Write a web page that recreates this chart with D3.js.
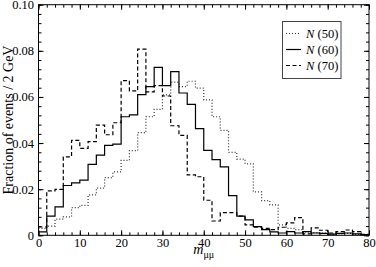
<!DOCTYPE html>
<html>
<head>
<meta charset="utf-8">
<script src="https://cdn.jsdelivr.net/npm/d3@7"></script>
<style>
  body { margin: 0; background: #fff; }
  svg { display: block; }
  svg text { font-family: "Liberation Serif", "Times New Roman", Times, Tinos, serif; fill: #000; }
  .hist { fill: none; stroke-width: 1.2; }
  .axis line { stroke: #000; }
  .legend-box { fill: #fff; stroke: #444; stroke-width: 1; }
</style>
</head>
<body>
<svg width="376" height="267" font-family="Liberation Serif, Times New Roman, serif"></svg>
<script>
// bins of 2 GeV, 0..80
const binStarts = d3.range(0, 80, 2);

const n50 = [0.003, 0.004, 0.007, 0.008, 0.012, 0.013, 0.0175, 0.0205, 0.025, 0.0275,
             0.0325, 0.0367, 0.0445, 0.0514, 0.0546, 0.0609, 0.0664, 0.0645, 0.0668, 0.0638,
             0.0587, 0.0514, 0.0455, 0.036, 0.033, 0.031, 0.0188, 0.015, 0.0132, 0.0045,
             0.003, 0.0025, 0.0015, 0.0012, 0.001, 0.0005, 0.0006, 0.0008, 0.0004, 0.0003];

const n60 = [0.0015, 0.0083, 0.0123, 0.0216, 0.0227, 0.0239, 0.0308, 0.0348, 0.039, 0.0395,
             0.0514, 0.0522, 0.061, 0.0645, 0.0728, 0.0649, 0.071, 0.0617, 0.0568, 0.0463,
             0.0368, 0.0328, 0.0297, 0.0172, 0.0083, 0.0067, 0.0038, 0.0025, 0.0015, 0.001,
             0.0016, 0.001, 0.0016, 0.001, 0.0008, 0.0005, 0.0008, 0.001, 0.0006, 0.0003];

const n70 = [0.0036, 0.0193, 0.0199, 0.034, 0.0412, 0.0377, 0.0406, 0.0478, 0.0436, 0.0488,
             0.0671, 0.0626, 0.0807, 0.0622, 0.0649, 0.0604, 0.0475, 0.0433, 0.0262, 0.0254,
             0.0152, 0.0062, 0.0098, 0.0098, 0.0083, 0.0045, 0.0035, 0.003, 0.0025, 0.0035,
             0.0054, 0.0077, 0.0006, 0.0032, 0.0022, 0.001, 0.0016, 0.0023, 0.0016, 0.0004];

const seriesNames = ["50", "60", "70"];
const xTicks = [0, 10, 20, 30, 40, 50, 60, 70, 80];
const yTicks = [0, 0.02, 0.04, 0.06, 0.08, 0.10];

const series = [
    { name: seriesNames[0], values: n50, dash: "1,2", color: "#333" },
    { name: seriesNames[1], values: n60, dash: null, color: "#000" },
    { name: seriesNames[2], values: n70, dash: "4,2.5", color: "#000" }
];

const xScale = d3.scaleLinear()
    .domain([0, 80])
    .range([38.5, 369]);

const yScale = d3.scaleLinear()
    .domain([0, 0.1])
    .range([235.3, 4.7]);

const stepLine = d3.line()
    .x((d) => xScale(d[0]))
    .y((d) => yScale(d[1]))
    .curve(d3.curveStepAfter);

const svg = d3.select("svg");

// if a Times-metric font is missing the fallback serif is wider: shrink to keep the layout
const probe = svg.append("text").style("font-size", "100px").text("0.10");
const fontScale = Math.min(1, 175 / probe.node().getComputedTextLength());
probe.remove();
const fs = (px) => (px * fontScale) + "px";

// histograms
svg.selectAll(".hist")
    .data(series)
    .enter().append("path")
    .attr("class", "hist")
    .attr("d", (s) => {
        const pts = binStarts.map((b, i) => [b, s.values[i]]);
        pts.push([80, s.values[s.values.length - 1]]);
        return stepLine(pts);
    })
    .style("stroke", (s) => s.color)
    .style("stroke-dasharray", (s) => s.dash);

// axes: inward ticks on all four sides
const xMinor = d3.range(0, 81, 2);
const yMinor = d3.range(0, 0.1001, 0.004);
const yFmt = (d) => d === 0 ? "0" : d3.format(".2f")(d);

svg.append("g").attr("class", "axis")
    .attr("transform", `translate(0,${yScale(0)})`)
    .call(d3.axisBottom(xScale).tickValues(xMinor).tickSize(-3).tickFormat(""));
svg.append("g").attr("class", "axis")
    .attr("transform", `translate(0,${yScale(0)})`)
    .call(d3.axisBottom(xScale).tickValues(xTicks).tickSize(-5).tickPadding(3));
svg.append("g").attr("class", "axis")
    .attr("transform", `translate(0,${yScale(0.1)})`)
    .call(d3.axisTop(xScale).tickValues(xMinor).tickSize(-3).tickFormat(""));
svg.append("g").attr("class", "axis")
    .attr("transform", `translate(0,${yScale(0.1)})`)
    .call(d3.axisTop(xScale).tickValues(xTicks).tickSize(-5).tickFormat(""));

svg.append("g").attr("class", "axis")
    .attr("transform", `translate(${xScale(0)},0)`)
    .call(d3.axisLeft(yScale).tickValues(yMinor).tickSize(-3).tickFormat(""));
svg.append("g").attr("class", "axis")
    .attr("transform", `translate(${xScale(0)},0)`)
    .call(d3.axisLeft(yScale).tickValues(yTicks).tickSize(-5).tickPadding(4.5).tickFormat(yFmt));
svg.append("g").attr("class", "axis")
    .attr("transform", `translate(${xScale(80)},0)`)
    .call(d3.axisRight(yScale).tickValues(yMinor).tickSize(-3).tickFormat(""));
svg.append("g").attr("class", "axis")
    .attr("transform", `translate(${xScale(80)},0)`)
    .call(d3.axisRight(yScale).tickValues(yTicks).tickSize(-5).tickFormat(""));

svg.selectAll(".axis .domain").remove();
svg.selectAll(".axis text")
    .attr("font-family", null)
    .style("font-size", fs(12.5));

svg.append("rect")
    .attr("x", xScale(0))
    .attr("y", yScale(0.1))
    .attr("width", xScale(80) - xScale(0))
    .attr("height", yScale(0) - yScale(0.1))
    .style("fill", "none")
    .style("stroke", "#000")
    .style("stroke-width", 1);

// axis titles
svg.append("text")
    .attr("transform", `translate(12.5,${(yScale(0) + yScale(0.1)) / 2}) rotate(-90)`)
    .attr("text-anchor", "middle")
    .style("font-size", fs(14))
    .text("Fraction of events / 2 GeV");

const xTitle = svg.append("text")
    .attr("x", (xScale(0) + xScale(80)) / 2)
    .attr("y", 254)
    .attr("text-anchor", "middle");
xTitle.append("tspan").style("font-style", "italic").style("font-size", fs(14)).text("m");
xTitle.append("tspan").attr("dy", 4).style("font-size", fs(10)).text("μμ");

// legend
svg.append("rect")
    .attr("class", "legend-box")
    .attr("x", 282.5)
    .attr("y", 21.5)
    .attr("width", 58.5)
    .attr("height", 57);

const legend = svg.selectAll(".legend-item")
    .data(series)
    .enter().append("g")
    .attr("class", "legend-item")
    .attr("transform", (d, i) => `translate(286,${33.5 + i * 16})`);

legend.append("line")
    .attr("x1", 0).attr("x2", 15)
    .style("stroke", (d) => d.color)
    .style("stroke-width", 1.2)
    .style("stroke-dasharray", (d) => d.dash);

const legendText = legend.append("text")
    .attr("x", 20)
    .attr("dy", "0.35em")
    .style("font-size", fs(12.5));
legendText.append("tspan").style("font-style", "italic").text("N");
legendText.append("tspan").text((d) => ` (${d.name})`);
</script>
</body>
</html>
